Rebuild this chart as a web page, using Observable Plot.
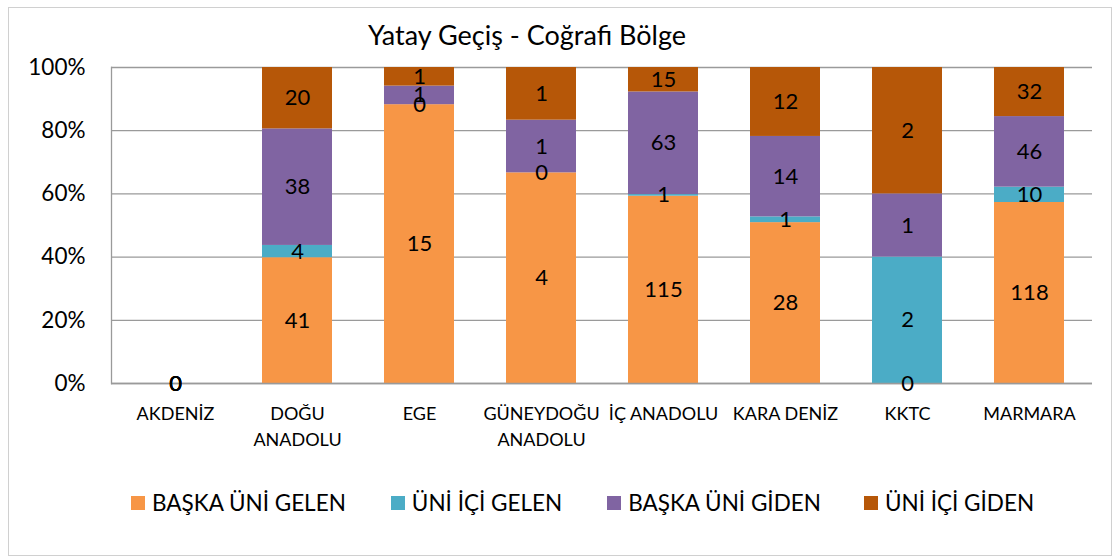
<!DOCTYPE html>
<html>
<head>
<meta charset="utf-8">
<script src="https://cdn.jsdelivr.net/npm/d3@7"></script>
<script src="https://cdn.jsdelivr.net/npm/@observablehq/plot@0.6"></script>
<style>
  html, body { margin: 0; padding: 0; background: #fff; }
  body { font-family: Lato, "Open Sans", sans-serif; }
  #wrap { position: relative; width: 1115px; height: 558px; overflow: hidden; }
  #border { position: absolute; left: 8px; top: 7px; width: 1104px; height: 549px; border: 1px solid #d0d0d0; box-sizing: border-box; }
  #title { position: absolute; left: 527px; top: 18px; transform: translateX(-50%); font-size: 27px; color: #000; white-space: nowrap; }
  #chart { position: absolute; left: 0; top: 0; }
  #legend { position: absolute; left: 131px; top: 489px; display: flex; align-items: center; font-size: 22.5px; color: #000; white-space: nowrap; }
  .item { display: flex; align-items: center; }
  .sw { width: 14px; height: 14px; margin-right: 7px; }
</style>
</head>
<body>
<div id="wrap">
  <div id="border"></div>
  <div id="chart"></div>
  <div id="title">Yatay Geçiş - Coğrafi Bölge</div>
  <div id="legend"></div>
</div>
<script>
// ---- data ----
const categories = ["AKDENİZ", "DOĞU ANADOLU", "EGE", "GÜNEYDOĞU ANADOLU", "İÇ ANADOLU", "KARA DENİZ", "KKTC", "MARMARA"];
const categoryLabels = ["AKDENİZ", "DOĞU\nANADOLU", "EGE", "GÜNEYDOĞU\nANADOLU", "İÇ ANADOLU", "KARA DENİZ", "KKTC", "MARMARA"];
const seriesNames = ["BAŞKA ÜNİ GELEN", "ÜNİ İÇİ GELEN", "BAŞKA ÜNİ GİDEN", "ÜNİ İÇİ GİDEN"];
const baskaUniGelen = [0, 41, 15, 4, 115, 28, 0, 118];
const uniIciGelen   = [0, 4, 0, 0, 1, 1, 2, 10];
const baskaUniGiden = [0, 38, 1, 1, 63, 14, 1, 46];
const uniIciGiden   = [0, 20, 1, 1, 15, 12, 2, 32];
const seriesColors = ["#F79646", "#4BACC6", "#8064A2", "#B65708"];
const yTicks = [0, 0.2, 0.4, 0.6, 0.8, 1];

// ---- table ----
const seriesValues = [baskaUniGelen, uniIciGelen, baskaUniGiden, uniIciGiden];
const rows = [];
categories.forEach((cat, i) => {
  const total = seriesValues.reduce((s, arr) => s + arr[i], 0);
  seriesNames.forEach((name, j) => {
    const v = seriesValues[j][i];
    rows.push({cat, series: name, value: v, share: total ? v / total : 0});
  });
});
const labelOf = new Map(categories.map((c, i) => [c, categoryLabels[i]]));

const W = 1115, H = 460;
const chart = Plot.plot({
  width: W,
  height: H,
  marginLeft: 111,
  marginRight: 23,
  marginTop: 67,
  marginBottom: H - 383,
  style: {fontFamily: "Lato, 'Open Sans', sans-serif", background: "transparent", color: "#000"},
  x: {domain: categories, paddingInner: 0.43, paddingOuter: 0.215, label: null},
  y: {domain: [0, 1], label: null},
  color: {domain: seriesNames, range: seriesColors},
  marks: [
    Plot.gridY(yTicks, {stroke: "#9a9a9a", strokeOpacity: 1, strokeWidth: 1.3}),
    Plot.barY(rows, Plot.stackY({x: "cat", y: "share", z: "series", fill: "series"})),
    Plot.ruleY([0], {stroke: "#9a9a9a", strokeWidth: 1.5}),
    Plot.frame({anchor: "left", stroke: "#9a9a9a", strokeWidth: 1.3}),
    Plot.text(rows, Plot.stackY({x: "cat", y: "share", z: "series", text: d => String(d.value), fontSize: 22, fill: "#000"})),
    Plot.axisY({ticks: yTicks, tickFormat: d3.format(".0%"), tickSize: 0, tickPadding: 26, fontSize: 22.5, label: null}),
    Plot.axisX({tickSize: 0, tickPadding: 19, fontSize: 18, lineHeight: 1.4, tickFormat: d => labelOf.get(d), label: null})
  ]
});
document.getElementById("chart").appendChild(chart);

// ---- legend ----
const legend = document.getElementById("legend");
const gaps = [0, 45, 45, 43];
seriesNames.forEach((name, j) => {
  const item = document.createElement("div");
  item.className = "item";
  item.style.marginLeft = gaps[j] + "px";
  const sw = document.createElement("div");
  sw.className = "sw";
  sw.style.background = seriesColors[j];
  const t = document.createElement("span");
  t.textContent = name;
  item.appendChild(sw);
  item.appendChild(t);
  legend.appendChild(item);
});
</script>
</body>
</html>
